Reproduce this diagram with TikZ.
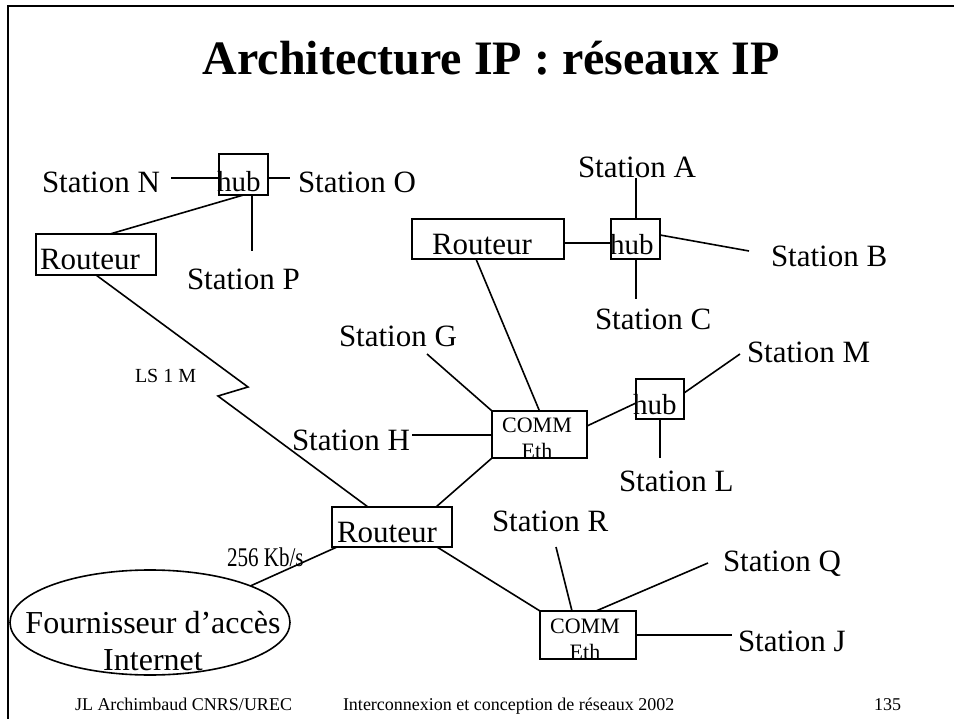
\documentclass[tikz,border=0pt]{standalone}
\usepackage{fontspec}
\setmainfont{Liberation Serif}
\usetikzlibrary{shapes.geometric}
\tikzset{
  ln/.style={line width=1.6pt},
  bx/.style={draw, line width=1.6pt, inner sep=0pt, outer sep=0pt},
  lab/.style={inner sep=0pt, outer sep=0pt, anchor=base west, font=\fontsize{31}{37}\selectfont},
  hubtxt/.style={lab, font=\fontsize{29}{35}\selectfont},
  commtxt/.style={inner sep=0pt, outer sep=0pt, anchor=base, align=center, font=\fontsize{22}{26}\selectfont},
  foot/.style={inner sep=0pt, outer sep=0pt, anchor=base west, font=\fontsize{18}{22}\selectfont},
}
\begin{document}
\begin{tikzpicture}[x=1pt, y=-1pt]
\useasboundingbox (0,0) rectangle (954,719);
% frame
\draw[line width=2.4pt] (8,719) -- (8,6) -- (954,6);
% title
\node[inner sep=0pt, anchor=base, font=\fontsize{48}{56}\selectfont\bfseries] (title) at (491,75) {Architecture IP : réseaux IP};

% boxes
\node[bx, minimum width=49pt, minimum height=41pt] (hubNO) at (243.5,174.5) {};
\node[bx, minimum width=120pt, minimum height=41pt] (rA) at (96,254.5) {};
\node[bx, minimum width=152pt, minimum height=40pt] (rB) at (488,239) {};
\node[bx, minimum width=49pt, minimum height=40pt] (hubABC) at (635.5,239) {};
\node[bx, minimum width=95pt, minimum height=47pt] (comm1) at (539.5,434.5) {};
\node[bx, minimum width=48pt, minimum height=40pt] (hubLM) at (660,399) {};
\node[bx, minimum width=120pt, minimum height=40pt] (rC) at (392,527) {};
\node[bx, minimum width=96pt, minimum height=48pt] (comm2) at (588,635) {};
\node[bx, ellipse, minimum width=280pt, minimum height=105pt] (isp) at (150,622.5) {};

% texts
\node[lab] (tN) at (42,193) {Station N};
\node[hubtxt] (thubNO) at (217,192) {hub};
\node[lab] (tO) at (298,193) {Station O};
\node[lab] (trA) at (40,270) {Routeur};
\node[lab] (tP) at (187,290) {Station P};
\node[lab] (tA) at (578,178) {Station A};
\node[lab] (trB) at (432,255) {Routeur};
\node[hubtxt] (thubABC) at (610,255) {hub};
\node[lab] (tB) at (771,267) {Station B};
\node[lab] (tC) at (595,330) {Station C};
\node[lab] (tG) at (339,347) {Station G};
\node[lab] (tM) at (747,363) {Station M};
\node[hubtxt] (thubLM) at (633,415) {hub};
\node[lab, font=\fontsize{20}{24}\selectfont] (tLS) at (135,383) {LS 1 M};
\node[lab] (tH) at (292,450) {Station H};
\node[commtxt] (tcomm1) at (537,459) {COMM\\Eth};
\node[lab] (tL) at (619,491) {Station L};
\node[lab] (tR) at (492,531) {Station R};
\node[lab] (trC) at (337,542) {Routeur};
\node[lab, font=\fontsize{27}{32}\selectfont] (tkb) at (227,566) {\scalebox{0.78}[1]{256 Kb/s}};
\node[lab] (tQ) at (723,571) {Station Q};
\node[inner sep=0pt, anchor=base, align=center, font=\fontsize{32}{37}\selectfont] (tisp) at (153,670) {Fournisseur d’accès\\Internet};
\node[commtxt] (tcomm2) at (585,659) {COMM\\Eth};
\node[lab] (tJ) at (738,651) {Station J};
\node[foot] (f1) at (75,710) {JL Archimbaud CNRS/UREC};
\node[foot] (f2) at (343,710) {Interconnexion et conception de réseaux 2002};
\node[foot] (f3) at (874,710) {135};

% free ends
\coordinate (nE) at (171,178);
\coordinate (oW) at (290,178);
\coordinate (pN) at (252,251);
\coordinate (z1) at (248,387);
\coordinate (z2) at (218,396);
\coordinate (aS) at (636,178);
\coordinate (cT) at (636,299);
\coordinate (bW) at (749,251);
\coordinate (gSE) at (427,354);
\coordinate (hE) at (412,435);
\coordinate (mSW) at (740,354);
\coordinate (lN) at (660,458);
\coordinate (rS) at (556,547);
\coordinate (qW) at (708,563);
\coordinate (jW) at (732,634);

% connectors
\draw[ln] (nE) -- (nE -| hubNO.west);
\draw[ln] (oW -| hubNO.east) -- (oW);
\draw[ln] (pN |- hubNO.south) -- (pN);
\draw[ln] (hubNO.south) -- ([xshift=14pt]rA.north);
\draw[ln] (rA.south) -- (z1) -- (z2) -- ([xshift=-24pt]rC.north);
\draw[ln] ([xshift=5pt]rC.south west) -- (isp.20);
\draw[ln] ([yshift=-4pt]rB.east) -- ([yshift=-4pt]hubABC.west);
\draw[ln] (aS) -- (aS |- hubABC.north);
\draw[ln] (cT |- hubABC.south) -- (cT);
\draw[ln] ([yshift=4pt]hubABC.east) -- (bW);
\draw[ln] ([xshift=-12pt]rB.south) -- (comm1.north);
\draw[ln] (gSE) -- (comm1.north west);
\draw[ln] (hE) -- (hE -| comm1.west);
\draw[ln] ([yshift=8.5pt]comm1.east) -- ([yshift=-4pt]hubLM.west);
\draw[ln] ([yshift=6pt]hubLM.east) -- (mSW);
\draw[ln] (hubLM.south) -- (lN);
\draw[ln] (comm1.south west) -- ([xshift=44pt]rC.north);
\draw[ln] ([xshift=-15pt]rC.south east) -- (comm2.north west);
\draw[ln] (rS) -- ([xshift=-16pt]comm2.north);
\draw[ln] ([xshift=8pt]comm2.north) -- (qW);
\draw[ln] (comm2.east) -- (jW |- comm2.east);
\end{tikzpicture}
\end{document}
